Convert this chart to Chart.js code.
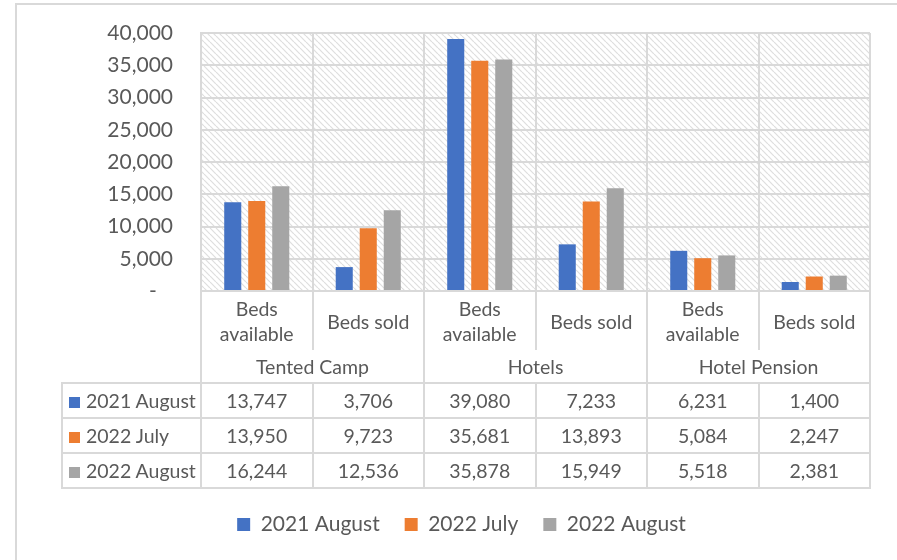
<!DOCTYPE html>
<html lang="en">
<head>
  <meta charset="UTF-8">
  <title>Beds available and beds sold</title>
  <script src="https://cdn.jsdelivr.net/npm/chart.js@4.4.3/dist/chart.umd.min.js"></script>
  <style>
    html, body { margin: 0; padding: 0; background: #fff; overflow: hidden; }
    .wrap { position: relative; width: 897px; height: 560px; }
    .frame {
      position: absolute; left: 15px; top: 3px; width: 1000px; height: 1000px;
      border: 2px solid #d9d9d9; box-sizing: border-box;
    }
    #chart { position: absolute; left: 0; top: 0; }
    #dataTable {
      position: absolute; border-collapse: collapse; table-layout: fixed;
      font-family: Lato, sans-serif; font-size: 19.5px; color: #595959;
    }
    #dataTable td { text-align: center; padding: 0; border: 2px solid #d9d9d9; }
    #dataTable td.blank { border: none; }
    #dataTable tr.sub td.head { border-bottom: none; line-height: 25px; }
    #dataTable tr.grp td.head { border-top: none; }
    #dataTable td.lbl { text-align: left; padding-left: 6px; white-space: nowrap; }
    .sw { display: inline-block; width: 11px; height: 11px; margin-right: 6px; }
  </style>
</head>
<body>
  <div class="wrap">
    <div class="frame"></div>
    <canvas id="chart" width="897" height="560"></canvas>
    <table id="dataTable"></table>
  </div>

  <script>
    const groups = ['Tented Camp', 'Hotels', 'Hotel Pension'];
    const subLabels = ['Beds available', 'Beds sold'];
    const series = ['2021 August', '2022 July', '2022 August'];
    const colors = ['#4472C4', '#ED7D31', '#A5A5A5'];
    const aug2021 = [13747, 3706, 39080, 7233, 6231, 1400];
    const jul2022 = [13950, 9723, 35681, 13893, 5084, 2247];
    const aug2022 = [16244, 12536, 35878, 15949, 5518, 2381];
    const yTicks = [0, 5000, 10000, 15000, 20000, 25000, 30000, 35000, 40000];

    const categories = [];
    groups.forEach(g => subLabels.forEach(s => categories.push(g + ' - ' + s)));
    const values = [aug2021, jul2022, aug2022];

    const textColor = '#595959';
    const gridColor = '#d9d9d9';

    // diagonal hatch behind the plot area
    function makeHatch(ctx) {
      const c = document.createElement('canvas');
      c.width = 6; c.height = 6;
      const p = c.getContext('2d');
      p.strokeStyle = '#dedede';
      p.lineWidth = 1.2;
      for (const off of [-6, 0, 6]) {
        p.beginPath();
        p.moveTo(off, 0);
        p.lineTo(off + 6, 6);
        p.stroke();
      }
      return ctx.createPattern(c, 'repeat');
    }

    const hatchPlugin = {
      id: 'hatch',
      beforeDraw(chart) {
        const { ctx, chartArea: a } = chart;
        ctx.save();
        ctx.fillStyle = makeHatch(ctx);
        ctx.fillRect(a.left, a.top, a.right - a.left, a.bottom - a.top);
        ctx.restore();
      }
    };

    const chart = new Chart(document.getElementById('chart'), {
      type: 'bar',
      data: {
        labels: categories,
        datasets: series.map((name, i) => ({
          label: name,
          data: values[i],
          backgroundColor: colors[i],
          borderWidth: 0,
          categoryPercentage: 0.646,
          barPercentage: 0.71
        }))
      },
      options: {
        responsive: false,
        animation: false,
        layout: { padding: { left: 53, top: 33, right: 27, bottom: 15 } },
        plugins: {
          legend: {
            position: 'bottom',
            labels: {
              boxWidth: 13, boxHeight: 13, padding: 25,
              color: textColor,
              font: { family: 'Lato', size: 21 }
            }
          },
          tooltip: { enabled: false }
        },
        scales: {
          x: {
            offset: true,
            grid: { color: gridColor, lineWidth: 2, offset: true, drawTicks: false },
            border: { color: gridColor, width: 2 },
            ticks: { display: false },
            afterFit(scale) { scale.height = 198; }
          },
          y: {
            min: 0, max: 40000,
            afterBuildTicks(scale) { scale.ticks = yTicks.map(v => ({ value: v })); },
            grid: { color: gridColor, lineWidth: 2, drawTicks: false },
            border: { color: gridColor, width: 2 },
            ticks: {
              padding: 28,
              color: textColor,
              font: { family: 'Lato', size: 21 },
              callback: v => v === 0 ? '-   ' : v.toLocaleString('en-US')
            },
            afterFit(scale) {
              scale.width = 148;
              // keep only half a label of room above the top tick
              scale.paddingTop = 13;
              scale.paddingBottom = 13;
            }
          }
        }
      },
      plugins: [hatchPlugin]
    });

    // data table under the plot, aligned to the x scale
    function buildTable() {
      const a = chart.chartArea;
      const tableLeft = 62;
      const colW = (a.right - a.left) / categories.length;
      const table = document.getElementById('dataTable');
      table.style.left = (tableLeft - 1) + 'px';
      table.style.top = (a.bottom - 1) + 'px';
      table.style.width = (a.right - tableLeft + 2) + 'px';

      let html = '<colgroup><col style="width:' + (a.left - tableLeft) + 'px">';
      categories.forEach(() => { html += '<col style="width:' + colW + 'px">'; });
      html += '</colgroup>';

      html += '<tr class="sub" style="height:59px"><td class="blank"></td>';
      groups.forEach(() => subLabels.forEach(s => { html += '<td class="head">' + s + '</td>'; }));
      html += '</tr>';

      html += '<tr class="grp" style="height:33px"><td class="blank"></td>';
      groups.forEach(g => { html += '<td class="head" colspan="2">' + g + '</td>'; });
      html += '</tr>';

      series.forEach((name, i) => {
        html += '<tr style="height:35px"><td class="lbl"><span class="sw" style="background:' + colors[i] + '"></span>' + name + '</td>';
        values[i].forEach(v => { html += '<td>' + v.toLocaleString('en-US') + '</td>'; });
        html += '</tr>';
      });
      table.innerHTML = html;
    }
    buildTable();
  </script>
</body>
</html>
